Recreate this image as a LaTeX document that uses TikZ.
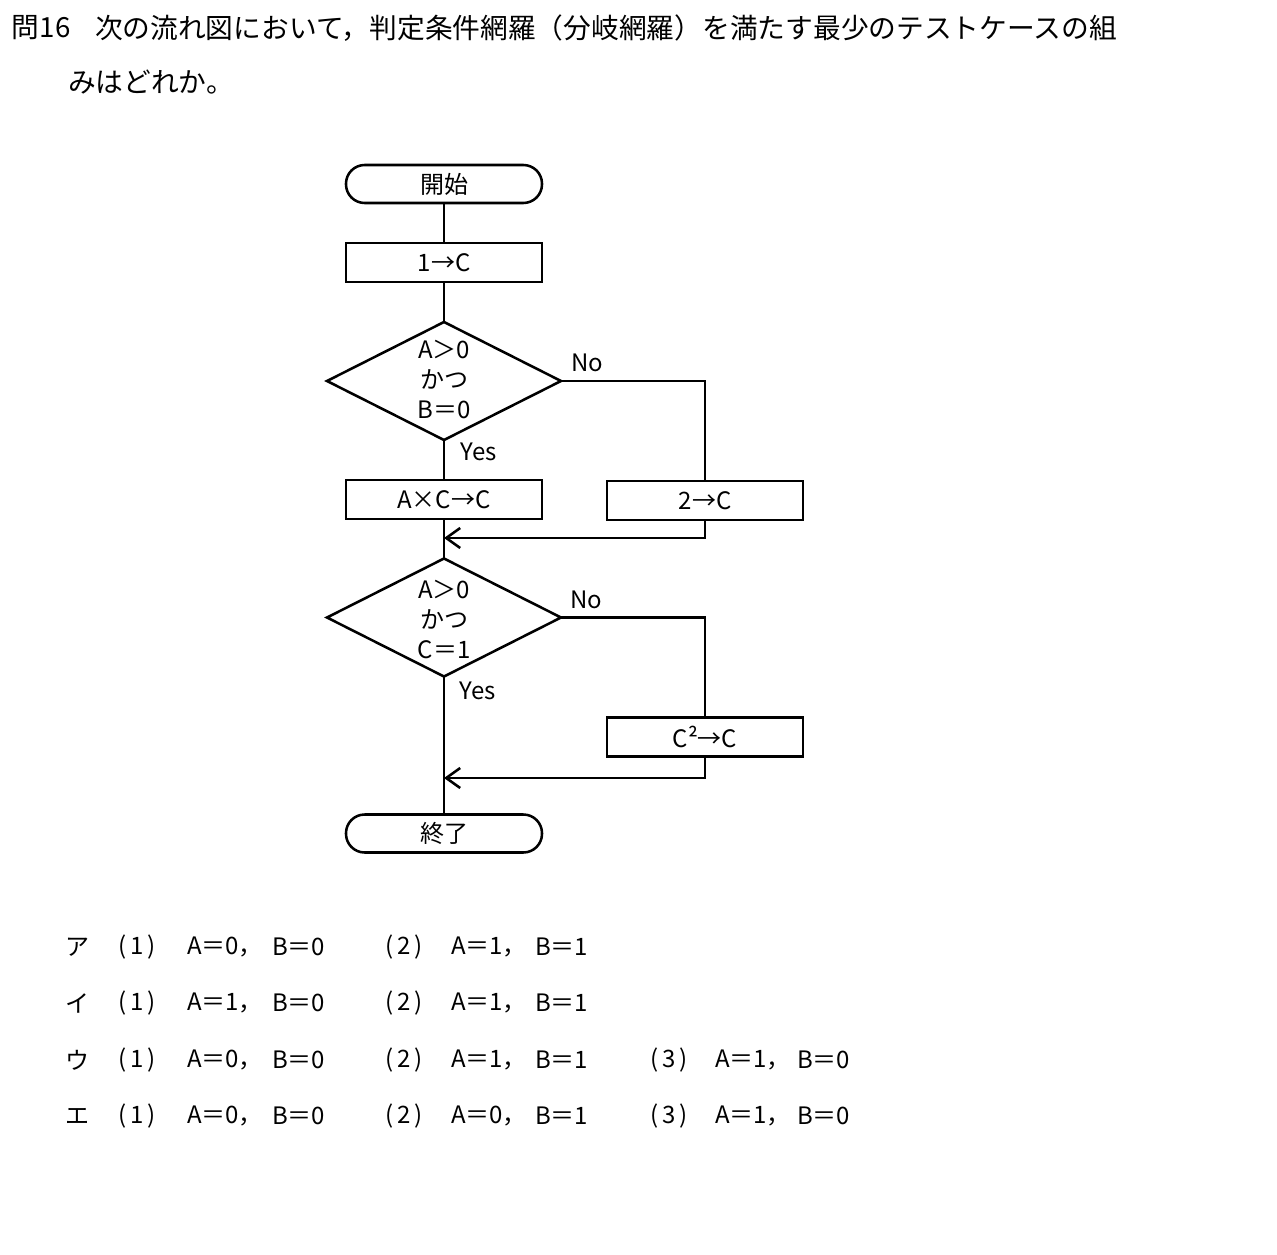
\documentclass[tikz,border=0pt]{standalone}
\usepackage{fontspec}
\setmainfont{Noto Sans CJK JP}
\usetikzlibrary{shapes.geometric,arrows.meta}
\newcommand{\pn}[1]{(\hspace{3pt}#1\hspace{3pt})}
\begin{document}
\begin{tikzpicture}[x=0.75pt,y=-0.75pt,
  every node/.style={inner sep=0pt, outer sep=0pt},
  fl/.style={line width=1.9pt},
  term/.style={draw, line width=1.9pt, rectangle, rounded corners=14pt, minimum width=147pt, minimum height=28.5pt, font=\fontsize{18pt}{22pt}\selectfont},
  proc/.style={draw, line width=1.9pt, rectangle, minimum width=147pt, minimum height=29.5pt, font=\fontsize{18pt}{22pt}\selectfont},
  dec/.style={draw, line width=1.9pt, diamond, minimum width=175.5pt, minimum height=88.5pt},
  dtext/.style={align=center, font=\fontsize{18pt}{22.5pt}\selectfont},
  lbl/.style={font=\fontsize{18pt}{22pt}\selectfont},
  ttl/.style={anchor=west, font=\fontsize{20.8pt}{24pt}\selectfont},
  ans/.style={anchor=west, font=\fontsize{18pt}{22pt}\selectfont},
  arr/.style={line width=1.9pt, -{Straight Barb[length=10.5pt,width=15pt]}}
]
\fill[white] (0,0) rectangle (1277,1255);
\useasboundingbox (0,0) rectangle (1277,1255);

% title
\node[ttl] (q) at (12,28) {問16};
\node[ttl] (t1) at (95,28) {次の流れ図において，判定条件網羅（分岐網羅）を満たす最少のテストケースの組};
\node[ttl] (t2) at (68,82) {みはどれか。};

% flowchart
\node[term] (start) at (444,184) {開始};
\node[proc] (b1) at (444,262.5) {1→C};
\node[dec] (d1) at (444,381) {};
\node[dtext] (d1t) at (444,379) {A＞0\\かつ\\B＝0};
\node[proc] (b2) at (444,499.5) {A×C→C};
\node[proc] (b3) at (705,500.5) {2→C};
\coordinate (m1) at (444,538);
\node[dec] (d2) at (444,617.5) {};
\node[dtext] (d2t) at (444,619) {A＞0\\かつ\\C＝1};
\node[proc] (b4) at (705,737) {C²→C};
\coordinate (m2) at (444,778);
\node[term] (end) at (444,833.5) {終了};

\node[lbl] (no1) at (587,363) {No};
\node[lbl] (yes1) at (479,452) {Yes};
\node[lbl] (no2) at (586,600) {No};
\node[lbl] (yes2) at (478,691) {Yes};

\draw[fl] (start.south) -- (b1.north);
\draw[fl] (b1.south) -- (d1.north);
\draw[fl] (d1.south) -- (b2.north);
\draw[fl] (d1.east) -| (b3.north);
\draw[arr] (b3.south) |- (m1);
\draw[fl] (b2.south) -- (d2.north);
\draw[fl] (d2.east) -| (b4.north);
\draw[arr] (b4.south) |- (m2);
\draw[fl] (d2.south) -- (end.north);

% answers
\node[ans] (a0) at (65,947) {ア};
\node[ans] (a1) at (118,947) {\pn{1}};
\node[ans] (a2) at (187,947) {A＝0，};
\node[ans] (a3) at (272,947) {B＝0};
\node[ans] (a4) at (385,947) {\pn{2}};
\node[ans] (a5) at (451,947) {A＝1，};
\node[ans] (a6) at (535,947) {B＝1};

\node[ans] (i0) at (65,1003) {イ};
\node[ans] (i1) at (118,1003) {\pn{1}};
\node[ans] (i2) at (187,1003) {A＝1，};
\node[ans] (i3) at (272,1003) {B＝0};
\node[ans] (i4) at (385,1003) {\pn{2}};
\node[ans] (i5) at (451,1003) {A＝1，};
\node[ans] (i6) at (535,1003) {B＝1};

\node[ans] (u0) at (65,1060) {ウ};
\node[ans] (u1) at (118,1060) {\pn{1}};
\node[ans] (u2) at (187,1060) {A＝0，};
\node[ans] (u3) at (272,1060) {B＝0};
\node[ans] (u4) at (385,1060) {\pn{2}};
\node[ans] (u5) at (451,1060) {A＝1，};
\node[ans] (u6) at (535,1060) {B＝1};
\node[ans] (u7) at (650,1060) {\pn{3}};
\node[ans] (u8) at (715,1060) {A＝1，};
\node[ans] (u9) at (797,1060) {B＝0};

\node[ans] (e0) at (65,1116) {エ};
\node[ans] (e1) at (118,1116) {\pn{1}};
\node[ans] (e2) at (187,1116) {A＝0，};
\node[ans] (e3) at (272,1116) {B＝0};
\node[ans] (e4) at (385,1116) {\pn{2}};
\node[ans] (e5) at (451,1116) {A＝0，};
\node[ans] (e6) at (535,1116) {B＝1};
\node[ans] (e7) at (650,1116) {\pn{3}};
\node[ans] (e8) at (715,1116) {A＝1，};
\node[ans] (e9) at (797,1116) {B＝0};
\end{tikzpicture}
\end{document}
